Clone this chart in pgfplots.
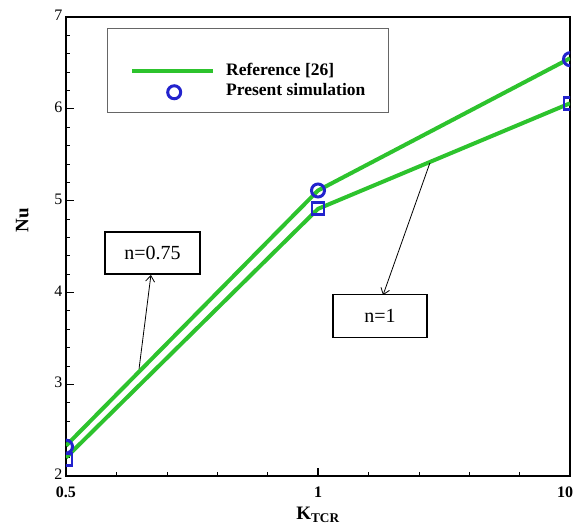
\documentclass[border=0pt]{standalone}
\usepackage{pgfplots}
\pgfplotsset{compat=1.18}
\usepackage{fontspec}
\setmainfont{Liberation Serif}
\usetikzlibrary{arrows.meta}
\definecolor{lgreen}{RGB}{45,195,45}
\definecolor{mblue}{RGB}{35,35,205}
\pgfplotsset{
  longline/.style={legend image code/.code={\draw[##1] (0pt,0pt) -- (81pt,0pt);}},
  onemark/.style={legend image code/.code={\draw[##1] plot coordinates {(42pt,-2pt)};}},
}
\begin{document}
\begin{tikzpicture}
\begin{axis}[
  scale only axis, width=504pt, height=459pt,
  xmin=0, xmax=2, ymin=2, ymax=7,
  xtick={0,1,2}, xticklabels={\textbf{0.5},\textbf{1},\textbf{10}\hspace*{10pt}},
  minor xtick={0.2,0.4,0.6,0.8,1.2,1.4,1.6,1.8},
  ytick={2,3,4,5,6,7}, minor y tick num=4,
  tick align=inside, xtick pos=bottom, ytick pos=left,
  major tick length=8pt, minor tick length=4pt,
  axis line style={line width=1.8pt},
  every tick/.style={black, line width=1.4pt},
  every minor tick/.style={black, line width=0.6pt},
  tick label style={font=\fontsize{16}{18}\selectfont},
  xticklabel style={yshift=-7pt},
  yticklabel style={yshift=1.5pt},
  /pgf/number format/assume math mode=true,
  xlabel={\textbf{K}\textsubscript{\textbf{TCR}}},
  ylabel={\textbf{Nu}},
  label style={font=\fontsize{19}{21}\selectfont},
  xlabel style={at={(axis description cs:0.5,-0.085)}, anchor=center},
  ylabel style={at={(axis description cs:-0.087,0.558)}, anchor=center},
  clip marker paths=true,
  legend style={at={(rel axis cs:0.127,0.862)}, anchor=west, draw=none, fill=none,
    inner xsep=0pt, inner ysep=0pt, font=\bfseries\fontsize{17.5}{18}\selectfont,
    column sep=9pt, row sep=2pt},
  legend cell align=left,
]
\addlegendimage{line width=4pt, lgreen, longline}
\addlegendentry{Reference [26]}
\addlegendimage{only marks, mark=o, mark size=6.5pt, line width=3pt, mblue, onemark}
\addlegendentry{Present simulation}

\addplot[forget plot, lgreen, line width=4pt, no marks] coordinates {(0,2.33) (1,5.11) (2,6.55)};
\addplot[forget plot, lgreen, line width=4pt, no marks] coordinates {(0,2.20) (1,4.91) (2,6.06)};
\addplot[forget plot, only marks, mark=o, mark size=6.5pt, line width=3pt, mblue] coordinates {(0,2.32) (1,5.11) (2,6.54)};
\addplot[forget plot, only marks, mark=square, mark size=6pt, line width=2.8pt, mblue] coordinates {(0,2.18) (1,4.91) (2,6.06)};

\draw[gray!80!black, line width=0.9pt] (axis cs:0.163,6.88) rectangle (axis cs:1.28,5.965);

\draw[-{Straight Barb[length=6pt,width=9pt]}, line width=0.8pt] (axis cs:0.29,3.17) -- (axis cs:0.337,4.19);
\draw[-{Straight Barb[length=6pt,width=9pt]}, line width=0.8pt] (axis cs:1.444,5.41) -- (axis cs:1.258,3.97);
\node[draw, fill=white, line width=1.3pt, minimum width=95pt, minimum height=42pt, font=\fontsize{20}{22}\selectfont] at (axis cs:0.343,4.43) {n=0.75};
\node[draw, fill=white, line width=1.3pt, minimum width=94pt, minimum height=43pt, font=\fontsize{20}{22}\selectfont] at (axis cs:1.246,3.74) {n=1};
\end{axis}
\pgfresetboundingbox
\path ([shift={(-66pt,-51pt)}]current axis.south west) rectangle ([shift={(4pt,17pt)}]current axis.north east);
\end{tikzpicture}
\end{document}
